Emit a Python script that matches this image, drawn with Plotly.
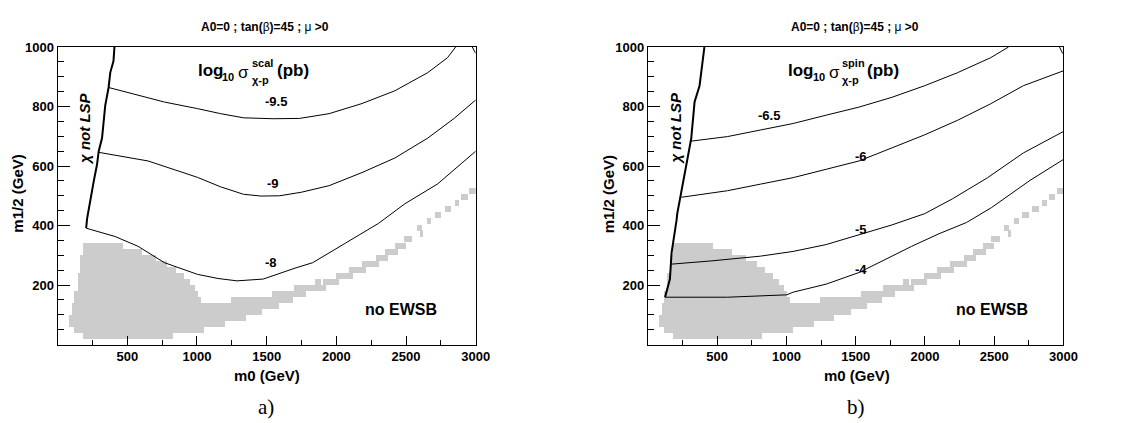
import plotly.graph_objects as go

W, H = 1133, 423

# ---------------- data (GeV) ----------------
# gray (excluded) region, stored as horizontal grid-row segments
GRAY_ROW_H = 20.3
GRAY_M12_LO = [18, 38, 59, 79, 99, 120,
               140, 140, 160, 160, 180, 180,
               201, 201, 201, 221, 221, 241, 241,
               262, 262, 282, 282, 302, 302, 322, 322,
               343, 363, 383, 404, 424, 444, 465, 485, 505]
GRAY_M0_LO = [179, 118, 78, 78, 100, 100,
              118, 1239, 118, 1535, 140, 1695,
              140, 1841, 1900, 140, 1995, 157, 2089,
              157, 2184, 157, 2278, 179, 2349, 179, 2420,
              2479, 2597, 2573, 2644, 2703, 2774, 2845, 2892, 2950]
GRAY_M0_HI = [824, 1045, 1199, 1346, 1464, 1582,
              1023, 1688, 1005, 1782, 983, 1924,
              945, 1885, 2018, 901, 2113, 846, 2207,
              784, 2300, 705, 2370, 603, 2440, 466, 2500,
              2540, 2620, 2609, 2679, 2750, 2821, 2880, 2939, 3000]

# panel a) scalar cross-section
LSP_A_M0 = [408, 401, 378, 366, 342, 330, 319, 295, 283, 260, 230, 212, 205]
LSP_A_M12 = [1000, 953, 914, 864, 804, 749, 694, 650, 605, 550, 473, 424, 391]
SCAL_95_M0 = [366, 767, 1003, 1170, 1334, 1546, 1735, 1948, 2184, 2420, 2656, 2797, 2856]
SCAL_95_M12 = [864, 815, 793, 776, 762, 759, 760, 776, 810, 853, 914, 964, 1000]
SCAL_9_M0 = [295, 649, 1003, 1170, 1334, 1460, 1593, 1750, 1948, 2184, 2420, 2656, 2845, 3000]
SCAL_9_M12 = [646, 617, 562, 530, 505, 499, 500, 512, 534, 578, 627, 694, 760, 822]
SCAL_8_M0 = [205, 413, 578, 767, 1003, 1150, 1287, 1475, 1711, 1830, 2066, 2302, 2491, 2727, 3000]
SCAL_8_M12 = [391, 363, 330, 275, 236, 222, 214, 220, 258, 275, 341, 407, 473, 540, 650]
CORNER_A_M0 = [2975, 2998]
CORNER_A_M12 = [1000, 980]
LABELS_A_TEXT = ["-9.5", "-9", "-8"]
LABELS_A_M0 = [1570, 1546, 1534]
LABELS_A_M12 = [818, 540, 275]

# panel b) spin-dependent cross-section
LSP_B_M0 = [408, 396, 373, 337, 313, 278, 242, 220, 212, 207, 171, 159, 143, 124]
LSP_B_M12 = [1000, 952, 870, 815, 693, 605, 517, 473, 440, 418, 308, 220, 187, 159]
SPIN_65_M0 = [302, 575, 812, 1049, 1287, 1524, 1762, 1999, 2237, 2474, 2604]
SPIN_65_M12 = [683, 699, 721, 743, 771, 798, 831, 870, 914, 964, 1000]
SPIN_6_M0 = [242, 575, 812, 1049, 1287, 1524, 1762, 1999, 2237, 2474, 2711, 3000]
SPIN_6_M12 = [495, 517, 539, 561, 589, 617, 661, 705, 754, 809, 870, 920]
SPIN_5_M0 = [165, 456, 812, 1049, 1287, 1524, 1762, 1999, 2200, 2450, 2711, 3000]
SPIN_5_M12 = [270, 281, 297, 313, 336, 368, 402, 440, 490, 560, 644, 716]
SPIN_4_M0 = [124, 575, 1002, 1049, 1287, 1524, 1762, 1904, 2100, 2300, 2480, 2760, 3000]
SPIN_4_M12 = [159, 159, 167, 176, 203, 242, 297, 330, 372, 410, 460, 552, 622]
CORNER_B_M0 = [2972, 2995]
CORNER_B_M12 = [1000, 978]
LABELS_B_TEXT = ["-6.5", "-6", "-5", "-4"]
LABELS_B_M0 = [871, 1536, 1536, 1536]
LABELS_B_M12 = [771, 633, 385, 253]

X_TICKS = [500, 1000, 1500, 2000, 2500, 3000]
Y_TICKS = [200, 400, 600, 800, 1000]

# ---------------- figure ----------------
GRAY = "rgb(204,204,204)"
FONT = "Liberation Sans, Arial, sans-serif"
fig = go.Figure()


def add_gray(xa, ya):
    fig.add_trace(go.Bar(
        orientation="h",
        y=[v + GRAY_ROW_H / 2 for v in GRAY_M12_LO],
        x=[hi - lo for lo, hi in zip(GRAY_M0_LO, GRAY_M0_HI)],
        base=GRAY_M0_LO, width=GRAY_ROW_H,
        marker=dict(color=GRAY, line=dict(width=0)),
        xaxis=xa, yaxis=ya, showlegend=False, hoverinfo="skip"))


def add_line(xs, ys, xa, ya, w=1.0):
    fig.add_trace(go.Scatter(x=xs, y=ys, mode="lines",
                             line=dict(color="black", width=w),
                             xaxis=xa, yaxis=ya, showlegend=False,
                             hoverinfo="skip"))


add_gray("x", "y")
add_gray("x2", "y2")

for xs, ys in [(SCAL_95_M0, SCAL_95_M12), (SCAL_9_M0, SCAL_9_M12),
               (SCAL_8_M0, SCAL_8_M12), (CORNER_A_M0, CORNER_A_M12)]:
    add_line(xs, ys, "x", "y")
add_line(LSP_A_M0, LSP_A_M12, "x", "y", 2.0)

for xs, ys in [(SPIN_65_M0, SPIN_65_M12), (SPIN_6_M0, SPIN_6_M12),
               (SPIN_5_M0, SPIN_5_M12), (SPIN_4_M0, SPIN_4_M12),
               (CORNER_B_M0, CORNER_B_M12)]:
    add_line(xs, ys, "x2", "y2")
add_line(LSP_B_M0, LSP_B_M12, "x2", "y2", 2.0)

# contour labels
for t, x, y in zip(LABELS_A_TEXT, LABELS_A_M0, LABELS_A_M12):
    fig.add_annotation(x=x, y=y, xref="x", yref="y", text="<b>%s</b>" % t,
                       showarrow=False, font=dict(family=FONT, size=13, color="black"))
for t, x, y in zip(LABELS_B_TEXT, LABELS_B_M0, LABELS_B_M12):
    fig.add_annotation(x=x, y=y, xref="x2", yref="y2", text="<b>%s</b>" % t,
                       showarrow=False, font=dict(family=FONT, size=13, color="black"))


def P(px, py):
    return px / W, 1 - py / H


def text(px, py, s, size, xanchor="center", angle=0, family=FONT, italic=False):
    x, y = P(px, py)
    fig.add_annotation(x=x, y=y, xref="paper", yref="paper", text=s,
                       showarrow=False, xanchor=xanchor, yanchor="middle",
                       textangle=angle,
                       font=dict(family=family, size=size, color="black",
                                 style="italic" if italic else "normal"))


for off, sup in [(0, "scal"), (598, "spin")]:
    # title
    text(268 + off, 20, "<b>A0=0 ; tan(</b>β<b>)=45 ; </b>μ<b> >0</b>", 12)
    # axis titles
    text(270 + off, 375, "<b>m0 (GeV)</b>", 15)
    text(18 + off, 190, "<b>m1/2 (GeV)</b>", 15, angle=-90)
    # panel letter
    text(269 + off, 407, "a)" if off == 0 else "b)", 21,
         family="Liberation Serif, Times New Roman, serif")
    # no EWSB
    text(406 + off, 308, "<b>no EWSB</b>", 16)
    # chi not LSP
    text(86 + off, 124, "<b>χ not LSP</b>", 15, angle=-90, italic=True)
    # log10 sigma label
    text(198 + off, 65, "<b>log</b>", 17, xanchor="left")
    text(223 + off, 71, "<b>10</b>", 11, xanchor="left")
    text(247 + off, 67, "σ", 17)
    text(253 + off, 57, "<b>%s</b>" % sup, 11, xanchor="left")
    text(253 + off, 74, "<b>χ-p</b>", 11, xanchor="left")
    text(278 + off, 65, "<b>(pb)</b>", 17, xanchor="left")

xdom_a = [58.3 / W, 481.7 / W]
xdom_b = [656.0 / W, 1076.7 / W]
ydom = [1 - 343.2 / H, 1 - 40.7 / H]

ax_common = dict(showline=True, mirror=True, linecolor="black", linewidth=1,
                 showgrid=False, zeroline=False, ticks="inside",
                 tickcolor="black", tickwidth=1,
                 tickfont=dict(family=FONT, size=13, color="black", weight="bold"))

xax = dict(ax_common, range=[0, 3000], tickmode="array", tickvals=X_TICKS,
           ticklen=9, minor=dict(dtick=250, tick0=0, ticks="inside", ticklen=5,
                                 tickcolor="black"))
yax = dict(ax_common, range=[0, 1000], tickmode="array", tickvals=Y_TICKS,
           ticklen=12, minor=dict(dtick=50, tick0=0, ticks="inside", ticklen=6,
                                  tickcolor="black"))

fig.update_layout(
    width=W, height=H, autosize=False,
    margin=dict(l=0, r=0, t=0, b=0),
    paper_bgcolor="white", plot_bgcolor="white",
    barmode="overlay", bargap=0,
    showlegend=False,
    xaxis=dict(xax, domain=xdom_a, anchor="y"),
    yaxis=dict(yax, domain=ydom, anchor="x"),
    xaxis2=dict(xax, domain=xdom_b, anchor="y2"),
    yaxis2=dict(yax, domain=ydom, anchor="x2"),
)

fig.write_html("out.html", config={"displayModeBar": False},
               post_script="document.body.style.margin='0px';")
